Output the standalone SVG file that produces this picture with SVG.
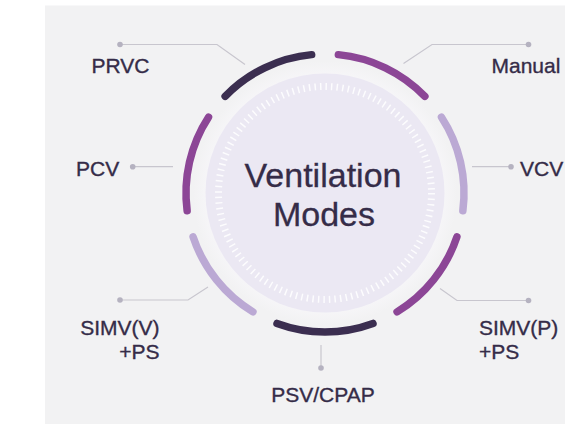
<svg xmlns="http://www.w3.org/2000/svg" width="565" height="424" viewBox="0 0 565 424">
  <style>
    .lbl { font-family: "Liberation Sans", Arial, sans-serif; font-size: 21px; fill: #352c48; stroke: #352c48; stroke-width: 0.35; }
    .title { font-family: "Liberation Sans", Arial, sans-serif; font-size: 34px; fill: #352c48; stroke: #352c48; stroke-width: 0.3; text-anchor: middle; }
    .seg { fill: none; stroke-width: 7.5; stroke-linecap: round; }
    .dark { stroke: #3b2e50; }
    .purple { stroke: #8c4696; }
    .lav { stroke: #bba9d4; }
    .lead { fill: none; stroke: #c8c6ce; stroke-width: 1.2; }
    .dot { fill: #b5b2c0; }
  </style>
  <defs>
    <radialGradient id="halo" cx="0.5" cy="0.5" r="0.5">
      <stop offset="0.85" stop-color="#f8f7fa"/>
      <stop offset="1" stop-color="#f2f2f3"/>
    </radialGradient>
  </defs>
  <rect width="565" height="424" fill="#ffffff"/>
  <rect x="45" y="5.5" width="520" height="418.5" fill="#f2f2f3"/>

  <g id="center">
    <circle cx="325" cy="193" r="132" fill="url(#halo)"/>
    <circle cx="325" cy="193" r="119.5" fill="#ebe8f3"/>
    <circle cx="325" cy="193" r="106.5" fill="none" stroke="#ffffff" stroke-opacity="0.85" stroke-width="7" stroke-dasharray="1.5 4.076"/>
    <text class="title" x="323" y="186.5">Ventilation</text>
    <text class="title" x="324" y="225.5">Modes</text>
  </g>

  <g id="connectors">
    <polyline class="lead" points="120,44.5 217,44.5 245,64.5"/>
    <polyline class="lead" points="528.5,44.5 432,44.5 403.5,63.5"/>
    <polyline class="lead" points="472,166.7 511,166.7"/>
    <polyline class="lead" points="132.7,166.7 173,166.7"/>
    <polyline class="lead" points="120,300 188,300 208,287"/>
    <polyline class="lead" points="528.5,300.5 457,300.5 440,288.5"/>
    <polyline class="lead" points="321,345 321,368"/>
    <circle class="dot" cx="120" cy="44.5" r="2.8"/>
    <circle class="dot" cx="528.5" cy="44.5" r="2.8"/>
    <circle class="dot" cx="511" cy="166.7" r="2.8"/>
    <circle class="dot" cx="132.7" cy="166.7" r="2.8"/>
    <circle class="dot" cx="120" cy="300" r="2.8"/>
    <circle class="dot" cx="528.5" cy="300.5" r="2.8"/>
    <circle class="dot" cx="321" cy="368" r="2.8"/>
  </g>

  <g id="prvc">
    <path class="seg dark" d="M225.14,96.30 A139,139 0 0 1 311.64,54.64"/>
    <text class="lbl" x="91.5" y="73.3">PRVC</text>
  </g>
  <g id="manual">
    <path class="seg purple" d="M338.36,54.64 A139,139 0 0 1 424.86,96.30"/>
    <text class="lbl" x="491.5" y="73.3">Manual</text>
  </g>
  <g id="vcv">
    <path class="seg lav" d="M441.50,117.18 A139,139 0 0 1 462.86,210.77"/>
    <text class="lbl" x="520" y="175.5">VCV</text>
  </g>
  <g id="simvp">
    <path class="seg purple" d="M456.91,236.81 A139,139 0 0 1 397.07,311.86"/>
    <text class="lbl" x="479" y="335">SIMV(P)</text>
    <text class="lbl" x="479" y="359">+PS</text>
  </g>
  <g id="psv">
    <path class="seg dark" d="M373.00,323.45 A139,139 0 0 1 277.00,323.45"/>
    <text class="lbl" x="323" y="401.5" text-anchor="middle">PSV/CPAP</text>
  </g>
  <g id="simvv">
    <path class="seg lav" d="M252.93,311.86 A139,139 0 0 1 193.09,236.81"/>
    <text class="lbl" x="159.5" y="335" text-anchor="end">SIMV(V)</text>
    <text class="lbl" x="159.5" y="359" text-anchor="end">+PS</text>
  </g>
  <g id="pcv">
    <path class="seg purple" d="M187.14,210.77 A139,139 0 0 1 208.50,117.18"/>
    <text class="lbl" x="76" y="176">PCV</text>
  </g>
</svg>
